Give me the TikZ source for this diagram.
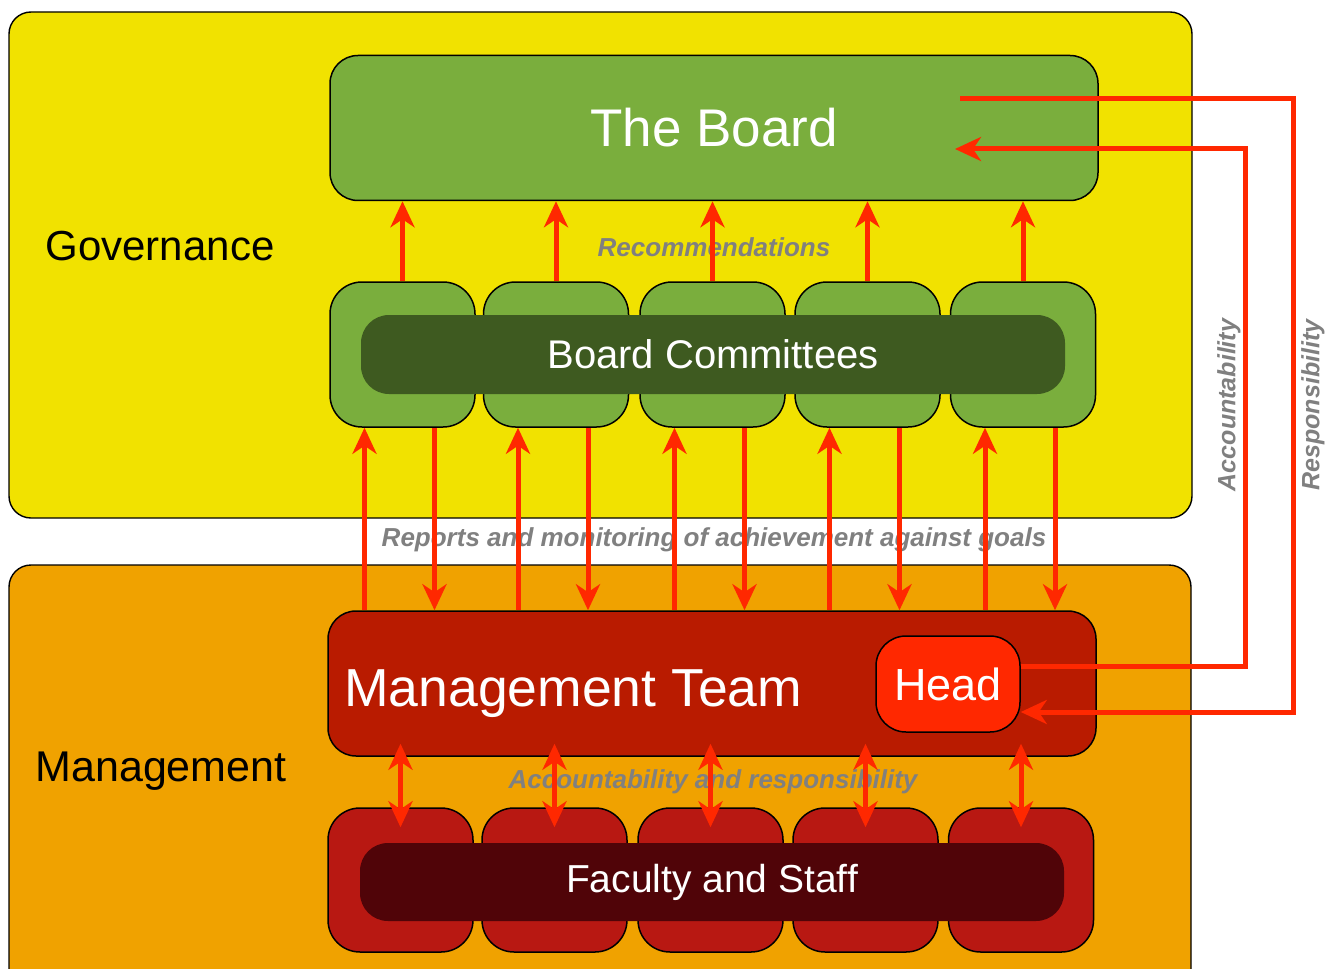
\documentclass[tikz,border=0pt]{standalone}
\usepackage{fontspec}
\setmainfont{Liberation Sans}
\usetikzlibrary{arrows.meta}

\definecolor{govyellow}{RGB}{241,226,0}
\definecolor{mgtorange}{RGB}{240,162,0}
\definecolor{boardgreen}{RGB}{122,174,61}
\definecolor{comdark}{RGB}{62,90,32}
\definecolor{teamred}{RGB}{185,27,0}
\definecolor{headred}{RGB}{255,40,0}
\definecolor{facred}{RGB}{184,24,18}
\definecolor{facdark}{RGB}{80,4,8}
\definecolor{arrowred}{RGB}{255,40,0}
\definecolor{notegrey}{RGB}{128,128,128}

\tikzset{
  zone/.style={draw=black, line width=1.4pt, rounded corners=22pt},
  box/.style={draw=black, line width=1.5pt, inner sep=0pt, text=white},
  inner/.style={inner sep=0pt, text=white, rounded corners=28pt,
    minimum width=704pt, minimum height=79pt},
  note/.style={text=notegrey, font=\fontsize{26}{30}\selectfont\bfseries\itshape},
  arr/.style={draw=arrowred, line width=5pt,
    -{Stealth[length=26pt,width=24pt,inset=8pt]}},
  darr/.style={draw=arrowred, line width=5pt,
    {Stealth[length=26pt,width=24pt,inset=8pt]}-{Stealth[length=26pt,width=24pt,inset=8pt]}}
}

\begin{document}
\begin{tikzpicture}[x=1pt, y=-1pt]
  \useasboundingbox (0,0) rectangle (1337,968);
  \clip (0,0) rectangle (1337,968);
  \fill[white] (0,0) rectangle (1337,968);

  % Zones
  \draw[zone, fill=govyellow] (9,12) rectangle (1192,518);
  \draw[zone, fill=mgtorange] (9,565) rectangle (1191,1010);
  \node[font=\fontsize{42}{48}\selectfont] (govlabel) at (160,246) {Governance};
  \node[font=\fontsize{43}{48}\selectfont] (mgtlabel) at (161,771) {Management};

  % The Board
  \node[box, fill=boardgreen, rounded corners=28pt, minimum width=768pt, minimum height=145pt,
    font=\fontsize{53}{60}\selectfont] (board) at (714,128) {The Board};

  % Board Committees
  \foreach \i/\x in {1/402.5,2/556,3/712.5,4/867.5,5/1023}
    \node[box, fill=boardgreen, rounded corners=32pt, minimum width=145pt, minimum height=145pt]
      (com\i) at (\x,354.5) {};
  \node[inner, fill=comdark, font=\fontsize{40}{46}\selectfont] (committees) at (713,354.5) {Board Committees};

  % Management Team and Head
  \node[box, fill=teamred, rounded corners=28pt, minimum width=768pt, minimum height=145pt] (mgmt) at (712,683.5) {};
  \node[anchor=base west, text=white, inner sep=0pt, font=\fontsize{53.5}{60}\selectfont]
    (teamlabel) at (344,706) {Management Team};
  \node[box, fill=headred, rounded corners=30pt, minimum width=144pt, minimum height=96pt,
    font=\fontsize{45}{52}\selectfont] (head) at (948,684) {Head};

  % Faculty and Staff
  \foreach \i/\x in {1/400.5,2/554.5,3/710.5,4/865.5,5/1021}
    \node[box, fill=facred, rounded corners=32pt, minimum width=145pt, minimum height=144pt]
      (fac\i) at (\x,880) {};
  \node[inner, fill=facdark, minimum height=78pt, font=\fontsize{39}{46}\selectfont] (faculty) at (712,882) {Faculty and Staff};

  % Notes
  \node[note] (recnote) at (714,247) {Recommendations};
  \node[note] (repnote) at (714,540) {Reports and monitoring of achievement against goals};
  \node[note] (accnote) at (713,782) {Accountability and responsibility};
  \node[note, font=\fontsize{25}{28}\selectfont\bfseries\itshape, rotate=90] (acclabel) at (1229,405) {Accountability};
  \node[note, font=\fontsize{25}{28}\selectfont\bfseries\itshape, rotate=90] (reslabel) at (1313,405) {Responsibility};

  % Recommendations up to the board
  \foreach \i in {1,...,5}
    \draw[arr] (com\i.north) -- (com\i.north |- board.south);

  % Reports up, monitoring down
  \foreach \i in {1,...,5} {
    \coordinate (up\i) at ([xshift=-38pt]com\i.south);
    \coordinate (dn\i) at ([xshift=32pt]com\i.south);
    \draw[arr] (up\i |- mgmt.north) -- (up\i);
    \draw[arr] (dn\i) -- (dn\i |- mgmt.north);
  }

  % Team <-> faculty
  \foreach \i in {1,...,5} {
    \coordinate (ft\i) at ([yshift=-20pt]fac\i.north);
    \coordinate (mb\i) at ([yshift=13pt]fac\i.north |- mgmt.south);
    \draw[darr] (mb\i) -- (ft\i);
  }

  % Head <-> Board loops
  \coordinate (r1) at (1293,0);
  \coordinate (r2) at (1245,0);
  \coordinate (bout) at ([xshift=246pt,yshift=29pt]board.center);
  \coordinate (btip) at ([xshift=241pt,yshift=-21pt]board.center);
  \coordinate (hout) at ([yshift=18pt]head.east);
  \coordinate (htip) at ([yshift=-28pt]head.east);
  \draw[arr] (bout) -| (r1 |- htip) -- (htip);
  \draw[arr] (hout) -| (r2 |- btip) -- (btip);
\end{tikzpicture}
\end{document}
